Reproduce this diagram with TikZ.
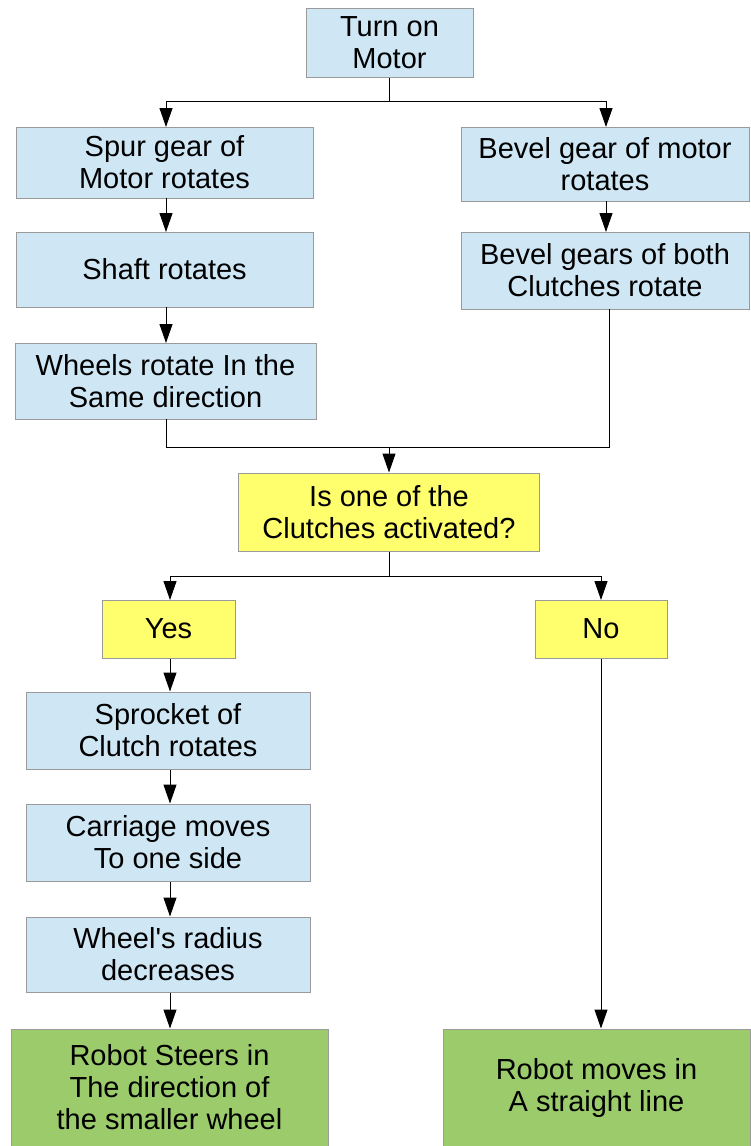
\documentclass[tikz,border=0pt]{standalone}
\usepackage{fontspec}
\setmainfont{Liberation Sans}
\usetikzlibrary{arrows.meta}
\definecolor{boxblue}{HTML}{CFE7F5}
\definecolor{boxyellow}{HTML}{FFFF6D}
\definecolor{boxgreen}{HTML}{9BCB6A}
\definecolor{boxline}{HTML}{9A9A9A}
\begin{document}
\begin{tikzpicture}[x=1pt,y=1pt,
    box/.style={draw=boxline, line width=1pt, align=center, inner sep=0pt,
        font=\fontsize{29}{32}\selectfont},
    stepbox/.style={box, fill=boxblue},
    askbox/.style={box, fill=boxyellow},
    endbox/.style={box, fill=boxgreen},
    arr/.style={-{Triangle[length=19pt,width=13pt]}, line width=1pt},
    ln/.style={line width=1pt}]
        \useasboundingbox (0,0) rectangle (750,-1146);

        \node[stepbox, minimum width=167, minimum height=69] (motor) at (389.5,-42.5) {Turn on\\Motor};
        \node[stepbox, minimum width=297, minimum height=71] (spur) at (164.5,-162.5) {Spur gear of\\Motor rotates};
        \node[stepbox, minimum width=288, minimum height=74] (bevel) at (605,-164) {Bevel gear of motor\\rotates};
        \node[stepbox, minimum width=297, minimum height=75] (shaft) at (164.5,-269.5) {Shaft rotates};
        \node[stepbox, minimum width=288, minimum height=77] (clutches) at (605,-270.5) {Bevel gears of both\\Clutches rotate};
        \node[stepbox, minimum width=301, minimum height=76] (wheels) at (165.5,-381) {Wheels rotate In the\\Same direction};
        \node[askbox, minimum width=301, minimum height=78] (ask) at (389,-512) {Is one of the\\Clutches activated?};
        \node[askbox, minimum width=133, minimum height=58] (yes) at (168.5,-629) {Yes};
        \node[askbox, minimum width=132, minimum height=58] (no) at (601,-629) {No};
        \node[stepbox, minimum width=284, minimum height=77] (sprocket) at (168,-730.5) {Sprocket of\\Clutch rotates};
        \node[stepbox, minimum width=284, minimum height=77] (carriage) at (168,-842.5) {Carriage moves\\To one side};
        \node[stepbox, minimum width=284, minimum height=75] (radius) at (168,-954.5) {Wheel\textquotesingle s radius\\decreases};
        \node[endbox, minimum width=317, minimum height=117] (steer) at (169.5,-1087.5) {Robot Steers in\\The direction of\\the smaller wheel};
        \node[endbox, minimum width=307, minimum height=117] (straight) at (596.5,-1087.5) {Robot moves in\\A straight line};

        \coordinate (split1) at (389.5,-101);
        \coordinate (join) at (389,-447);
        \coordinate (split2) at (389,-576);

        \draw[ln] (motor.south) -- (split1);
        \draw[arr] (split1) -| (166,-127);
        \draw[arr] (split1) -| (606,-127);
        \draw[arr] (166,-198) -- (166,-232);
        \draw[arr] (166,-307) -- (166,-343);
        \draw[arr] (606,-201) -- (606,-232);
        \draw[ln] (166,-419) |- (join);
        \draw[ln] (609,-309) |- (join);
        \draw[arr] (join) -- (ask.north);
        \draw[ln] (ask.south) -- (split2);
        \draw[arr] (split2) -| (170,-600);
        \draw[arr] (split2) -| (601,-600);
        \foreach \a/\b in {yes/sprocket, sprocket/carriage, carriage/radius, radius/steer}
            \draw[arr] (170,0 |- \a.south) -- (170,0 |- \b.north);
        \draw[arr] (no.south) -- (no.south |- straight.north);
\end{tikzpicture}
\end{document}
